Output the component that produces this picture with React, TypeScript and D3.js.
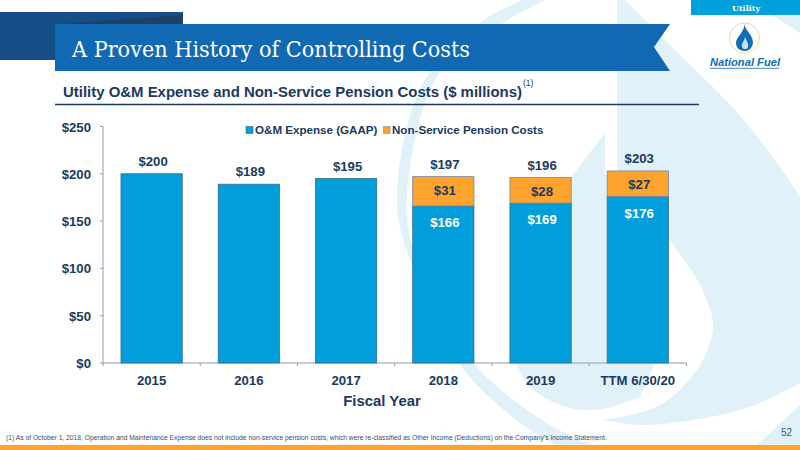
import React from "react";
import * as d3 from "d3";

const categories = ["2015", "2016", "2017", "2018", "2019", "TTM 6/30/20"];
const omExpense = [200, 189, 195, 166, 169, 176];
const pensionCosts = [0, 0, 0, 31, 28, 27];
const totals = [200, 189, 195, 197, 196, 203];
const yTicks = [0, 50, 100, 150, 200, 250];

const NAVY = "#1b3a5f";
const BLUE = "#009fdb";
const ORANGE = "#ffa22e";
const WASH = "#e1f1f9";
const FONT = "'Liberation Sans', Arial, sans-serif";

const x = d3.scaleBand<string>().domain(categories).range([103, 686.4]).paddingInner(0.37).paddingOuter(0.185);
const xOuter = d3.scaleBand<string>().domain(categories).range([103, 686.4]);
const y = d3.scaleLinear().domain([0, 250]).range([363, 126.5]);

const curve = d3.line<[number, number]>().curve(d3.curveCatmullRom.alpha(0.5));
const ringOuter: [number, number][] = [[522, 0], [480, 23], [423, 83], [397, 200], [413, 268], [460, 365], [523, 425], [570, 452]];
const ringInner: [number, number][] = [[610, 452], [550, 425], [473, 363], [437, 302], [409, 232], [410, 167], [440, 72], [503, 23], [545, 0]];
const innerLeft: [number, number][] = [[571, 177], [530, 235], [512, 310], [523, 378], [560, 405], [597, 410], [640, 397]];
const lobeTop: [number, number][] = [[625, 0], [680, 55], [735, 110], [780, 167], [800, 197]];
const lobeBottom: [number, number][] = [[800, 383], [747, 408], [647, 425], [603, 420]];
const lobeInner: [number, number][] = [[603, 420], [660, 405], [700, 365], [713, 325], [700, 285], [668, 238]];
const seg = (p: [number, number][]) => curve(p)!.replace(/^M/, "L");

export default function App() {
  const labelX = (c: string) => x(c)! + x.bandwidth() / 2 + 1.5;
  return (
    <svg width={800} height={450} style={{ position: "fixed", left: 0, top: 0, background: "#fff" }} fontFamily={FONT}>
      {/* watermark */}
      <path d={`${curve(ringOuter)} ${seg(ringInner)} Z`} fill={WASH} />
      <path d={`M605 133 ${seg(innerLeft)} L655 363 L640 175 L605 175 Z`} fill={WASH} />
      <path d={`M617 0 ${seg(lobeTop)} ${seg(lobeBottom)} ${seg(lobeInner)} L655 225 L617 175 Z`} fill={WASH} />
      <path d="M772 15 L800 15 L800 33 Z" fill={WASH} />
      <path d="M757 445 L800 405 L800 445 Z" fill={WASH} />

      {/* header band */}
      <rect x={0} y={12} width={183} height={48} fill="#144e85" />
      <path d="M60 24 L183 15 L183 24 Z" fill="#1f3f66" />
      <path d="M55 24 H670 L654 47 L670 71 H55 Z" fill="#1168b3" />
      <text x={72} y={57} fontFamily="'DejaVu Serif', serif" fontSize={23} fill="#fff" textLength={398} lengthAdjust="spacingAndGlyphs">A Proven History of Controlling Costs</text>

      {/* tab and logo */}
      <rect x={691} y={0} width={109} height={15} fill="#00a0dc" />
      <text x={746} y={11} textAnchor="middle" fontFamily="'DejaVu Serif', serif" fontSize={8} fontWeight="bold" fill="#fff">Utility</text>
      <circle cx={744.5} cy={38} r={15} fill="#fff" stroke="#fbd29c" strokeWidth={1} />
      <path d="M744.5 24 C745 31 753 34 753 43 C752 49 748 51 745 51 C740 51 736 48 736 43 C736 37 744 33 744.5 24 Z" fill="#0f6cb6" />
      <path d="M745 36 C746 41 749 43 748 47 C747 50 743 50 742 47 C741 43 745 41 745 36 Z" fill="#bfe3f5" />
      <text x={710} y={66} textLength={70} lengthAdjust="spacingAndGlyphs" fontSize={11.5} fontWeight="bold" fontStyle="italic" fill="#0f6cb6">National Fuel</text>
      <line x1={710} x2={779} y1={68.3} y2={68.3} stroke="#0f6cb6" strokeWidth={0.8} />

      {/* subtitle */}
      <text x={63} y={97} fontSize={14.95} fontWeight="bold" fill={NAVY}>Utility O&amp;M Expense and Non-Service Pension Costs ($ millions)</text>
      <text x={523} y={86} fontSize={8.5} fill={NAVY}>(1)</text>
      <line x1={55} x2={699} y1={104.5} y2={104.5} stroke={NAVY} strokeWidth={1.6} />

      {/* axes */}
      <g stroke="#8aa0b8" strokeWidth={1} fill="none">
        <line x1={103} x2={103} y1={y(250)} y2={y(0)} />
        <line x1={103} x2={686.4} y1={y(0)} y2={y(0)} />
        {yTicks.map((t) => <line key={t} x1={100} x2={103} y1={y(t)} y2={y(t)} />)}
        {categories.map((c) => <line key={c} x1={xOuter(c)!} x2={xOuter(c)!} y1={y(0)} y2={y(0) + 3} />)}
        <line x1={686.4} x2={686.4} y1={y(0)} y2={y(0) + 3} />
      </g>
      {yTicks.map((t) => (
        <text key={t} x={91} y={y(t) + 5} textAnchor="end" fontSize={13.2} fontWeight="bold" fill={NAVY}>{`$${t}`}</text>
      ))}
      {categories.map((c) => (
        <text key={c} x={xOuter(c)! + xOuter.bandwidth() / 2} y={384.5} textAnchor="middle" fontSize={13.2} fontWeight="bold" fill={NAVY}>{c}</text>
      ))}
      <text x={382} y={406} textAnchor="middle" fontSize={14.9} fontWeight="bold" fill={NAVY}>Fiscal Year</text>

      {/* bars */}
      {categories.map((c, i) => (
        <g key={c}>
          <rect x={x(c)!} width={x.bandwidth()} y={y(omExpense[i])} height={y(0) - y(omExpense[i])} fill={BLUE} stroke="#3a6a8c" strokeWidth={0.8} />
          {pensionCosts[i] > 0 && (
            <rect x={x(c)!} width={x.bandwidth()} y={y(totals[i])} height={y(omExpense[i]) - y(totals[i])} fill={ORANGE} stroke="#6f8aa3" strokeWidth={0.8} />
          )}
          <text x={labelX(c)} y={y(totals[i]) - 8} textAnchor="middle" fontSize={13.2} fontWeight="bold" fill={NAVY}>{`$${totals[i]}`}</text>
          {pensionCosts[i] > 0 && (
            <>
              <text x={labelX(c)} y={y(totals[i]) + 18} textAnchor="middle" fontSize={13.2} fontWeight="bold" fill={NAVY}>{`$${pensionCosts[i]}`}</text>
              <text x={labelX(c)} y={y(omExpense[i]) + 21} textAnchor="middle" fontSize={13.2} fontWeight="bold" fill="#fff">{`$${omExpense[i]}`}</text>
            </>
          )}
        </g>
      ))}

      {/* legend */}
      <rect x={246} y={126.5} width={7} height={7} fill={BLUE} stroke="#3a6a8c" strokeWidth={0.6} />
      <text x={255} y={134} fontSize={11.6} fontWeight="bold" fill={NAVY}>O&amp;M Expense (GAAP)</text>
      <rect x={383.5} y={126.5} width={6.5} height={7} fill={ORANGE} stroke="#6f8aa3" strokeWidth={0.6} />
      <text x={392} y={134} fontSize={11.6} fontWeight="bold" fill={NAVY}>Non-Service Pension Costs</text>

      {/* footer */}
      <text x={6} y={440} fontSize={6.73} fill="#3a4f68">(1) As of October 1, 2018, Operation and Maintenance Expense does not include non-service pension costs, which were re-classified as Other Income (Deductions) on the Company’s Income Statement.</text>
      <text x={781} y={436} fontSize={10} fill="#2a5a8c">52</text>
      <rect x={0} y={445} width={800} height={5} fill={ORANGE} />
    </svg>
  );
}
